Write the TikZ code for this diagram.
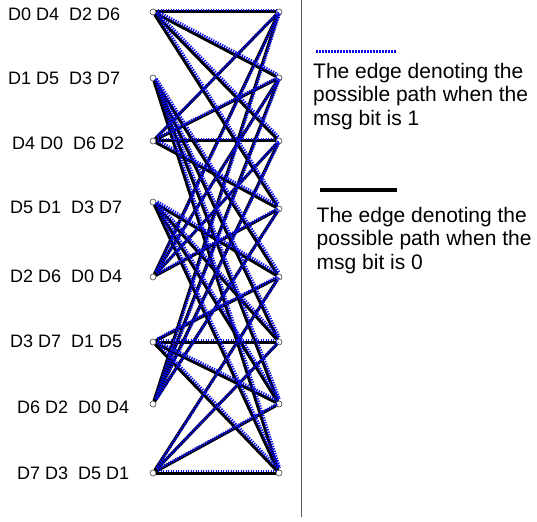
\documentclass[tikz,border=0pt]{standalone}
\usepackage{fontspec}
\setmainfont{Liberation Sans}
\usepackage{xcolor}
\usepackage{tikz}
\usetikzlibrary{positioning,calc}
\definecolor{onec}{HTML}{0A0AF5}
\definecolor{sepc}{HTML}{555555}

\begin{document}
\begin{tikzpicture}[x=1pt, y=-1pt,
  vtx/.style={circle, draw=black!75, fill=white, line width=0.6pt,
              minimum size=6pt, inner sep=0pt},
  lbl/.style={anchor=west, inner sep=0pt, font=\fontsize{18}{20}\selectfont},
  zeroedge/.style={line width=3pt, black},
  oneedge/.style={line width=2.8pt, onec, dash pattern=on 1.3pt off 1.2pt},
  nudge/.style={transform canvas={shift={(1.7,-2)}}},
  note/.style={anchor=north west, inner sep=0pt, align=left,
               font=\fontsize{21}{23.5}\selectfont}]
\useasboundingbox (0,0) rectangle (537,521);
% states of the two columns
\foreach \i/\yl/\yr in {0/12/12, 1/78/78, 2/141/141, 3/202/209,
                        4/277/277, 5/342/342, 6/404/404, 7/473/473} {
  \node[vtx] (L\i) at (153,\yl) {};
  \node[vtx] (R\i) at (279,\yr) {};
}
\node[lbl] (t0) at (8,14.5) {D0 D4~~D2 D6};
\node[lbl] (t1) at (8,78.8) {D1 D5~~D3 D7};
\node[lbl] (t2) at (12,143) {D4 D0~~D6 D2};
\node[lbl] (t3) at (10,207) {D5 D1~~D3 D7};
\node[lbl] (t4) at (10,276) {D2 D6~~D0 D4};
\node[lbl] (t5) at (10,341) {D3 D7~~D1 D5};
\node[lbl] (t6) at (17,407) {D6 D2~~D0 D4};
\node[lbl] (t7) at (17,473) {D7 D3~~D5 D1};
% transitions, bit 0 then bit 1
\foreach \i in {0,...,7} {
  \pgfmathtruncatemacro{\base}{4*mod(\i,2)}
  \foreach \k in {0,...,3} {
    \pgfmathtruncatemacro{\j}{\base+\k}
    \draw[zeroedge] (L\i) -- (R\j);
  }
}
\foreach \i in {0,...,7} {
  \pgfmathtruncatemacro{\base}{4*mod(\i,2)}
  \foreach \k in {0,...,3} {
    \pgfmathtruncatemacro{\j}{\base+\k}
    \draw[oneedge, nudge] (L\i) -- (R\j);
  }
}
% separator and legend
\coordinate (sepTop) at (301.5,0);
\coordinate (sepBot) at (301.5,517);
\draw[sepc, line width=1pt] (sepTop) -- (sepBot);
\coordinate (k1a) at (316,52);
\coordinate (k1b) at (396,52);
\draw[oneedge, line width=3pt, dash pattern=on 2pt off 1pt] (k1a) -- (k1b);
\node[note] (n1) at (313,63) {The edge denoting the\\possible path when the\\msg bit is 1};
\coordinate (k0a) at (320,190);
\coordinate (k0b) at (397,190);
\draw[zeroedge, line width=3.5pt] (k0a) -- (k0b);
\node[note] (n0) at (316.5,207) {The edge denoting the\\possible path when the\\msg bit is 0};
\end{tikzpicture}
\end{document}
